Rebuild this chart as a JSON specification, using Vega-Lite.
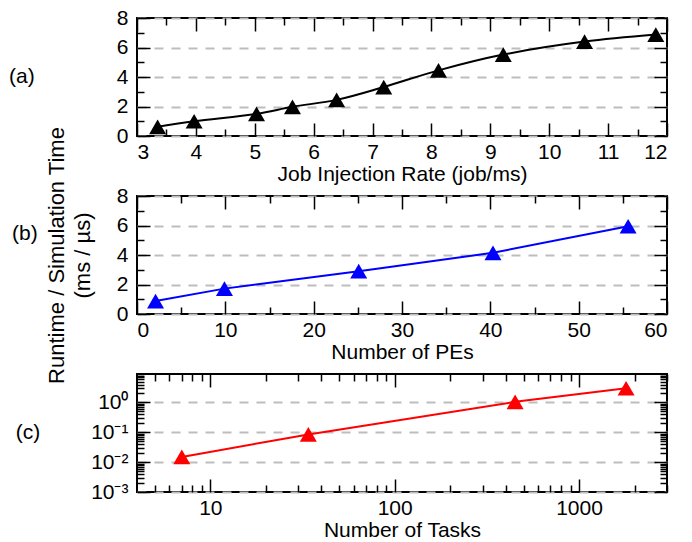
{
  "$schema": "https://vega.github.io/schema/vega-lite/v6.json",
  "padding": {"left": 7, "top": 6, "right": 5, "bottom": 2},
  "background": "white",
  "spacing": 60,
  "bounds": "flush",
  "datasets": {
    "a": [
      {"rate": 3.35, "time": 0.62},
      {"rate": 3.97, "time": 1.0},
      {"rate": 5.03, "time": 1.5},
      {"rate": 5.64, "time": 1.98},
      {"rate": 6.39, "time": 2.45},
      {"rate": 7.19, "time": 3.32},
      {"rate": 8.12, "time": 4.45},
      {"rate": 9.22, "time": 5.52},
      {"rate": 10.6, "time": 6.4},
      {"rate": 11.81, "time": 6.88}
    ],
    "b": [
      {"pes": 2.1, "time": 0.88},
      {"pes": 9.9, "time": 1.72},
      {"pes": 25.1, "time": 2.9},
      {"pes": 40.3, "time": 4.15},
      {"pes": 55.6, "time": 5.95}
    ],
    "c": [
      {"tasks": 7, "time": 0.015},
      {"tasks": 34, "time": 0.085},
      {"tasks": 450, "time": 1.05},
      {"tasks": 1800, "time": 3.0}
    ]
  },
  "vconcat": [
    {
      "width": 530, "height": 118,
      "title": {"text": "(a)", "orient": "left", "angle": 0, "align": "right", "baseline": "middle", "offset": 56, "fontSize": 21, "fontWeight": "normal", "font": "Liberation Sans", "color": "black"},
      "data": {"name": "a"},
      "layer": [
        {
          "mark": {"type": "line", "color": "black", "strokeWidth": 2, "interpolate": "catmull-rom"},
          "encoding": {
            "x": {"field": "rate", "type": "quantitative", "scale": {"domain": [3, 12], "nice": false, "zero": false},
                  "axis": {"orient": "bottom", "values": [3,4,5,6,7,8,9,10,11,12], "ticks": false, "domain": false, "grid": false, "labelPadding": 5, "title": "Job Injection Rate (job/ms)", "titlePadding": 1}},
            "y": {"field": "time", "type": "quantitative", "scale": {"domain": [0, 8], "nice": false, "zero": false},
                  "axis": {"orient": "left", "values": [0,2,4,6,8], "ticks": false, "domain": false, "grid": true, "gridDash": [9, 8], "gridColor": "#bdbdbd", "gridWidth": 2, "labelPadding": 9, "title": null}}
          }
        },
        {
          "mark": {"type": "point", "shape": "triangle-up", "filled": true, "size": 289, "color": "black", "opacity": 1},
          "encoding": {
            "x": {"field": "rate", "type": "quantitative", "axis": {"orient": "bottom", "values": [3,4,5,6,7,8,9,10,11,12], "labels": false, "tickSize": -13, "domain": false, "grid": false, "title": null}},
            "y": {"field": "time", "type": "quantitative", "axis": {"orient": "left", "values": [0,2,4,6,8], "labels": false, "tickSize": -13, "domain": false, "grid": false, "title": null}}
          }
        },
        {
          "mark": {"type": "point", "opacity": 0},
          "encoding": {
            "x": {"field": "rate", "type": "quantitative", "axis": {"orient": "bottom", "values": [3.5,4.5,5.5,6.5,7.5,8.5,9.5,10.5,11.5], "labels": false, "tickSize": -7, "domain": false, "grid": false, "title": null}},
            "y": {"field": "time", "type": "quantitative", "axis": {"orient": "left", "values": [1,3,5,7], "labels": false, "tickSize": -7, "domain": false, "grid": false, "title": null}}
          }
        },
        {
          "mark": {"type": "point", "opacity": 0},
          "encoding": {
            "x": {"field": "rate", "type": "quantitative", "axis": {"orient": "top", "values": [3,4,5,6,7,8,9,10,11,12], "labels": false, "tickSize": -13, "domain": false, "grid": false, "title": null}},
            "y": {"field": "time", "type": "quantitative", "axis": {"orient": "right", "values": [0,2,4,6,8], "labels": false, "tickSize": -13, "domain": false, "grid": false, "title": null}}
          }
        },
        {
          "mark": {"type": "point", "opacity": 0},
          "encoding": {
            "x": {"field": "rate", "type": "quantitative", "axis": {"orient": "top", "values": [3.5,4.5,5.5,6.5,7.5,8.5,9.5,10.5,11.5], "labels": false, "tickSize": -7, "domain": false, "grid": false, "title": null}},
            "y": {"field": "time", "type": "quantitative", "axis": {"orient": "right", "values": [1,3,5,7], "labels": false, "tickSize": -7, "domain": false, "grid": false, "title": null}}
          }
        }
      ],
      "resolve": {"axis": {"x": "independent", "y": "independent"}}
    },
    {
      "width": 530, "height": 118,
      "title": {"text": "(b)", "orient": "left", "angle": 0, "align": "right", "baseline": "middle", "offset": -18, "dy": -21, "fontSize": 21, "fontWeight": "normal", "font": "Liberation Sans", "color": "black"},
      "data": {"name": "b"},
      "layer": [
        {
          "mark": {"type": "line", "color": "#0000ff", "strokeWidth": 2},
          "encoding": {
            "x": {"field": "pes", "type": "quantitative", "scale": {"domain": [0, 60], "nice": false, "zero": false},
                  "axis": {"orient": "bottom", "values": [0,10,20,30,40,50,60], "ticks": false, "domain": false, "grid": false, "labelPadding": 5, "title": "Number of PEs", "titlePadding": 1}},
            "y": {"field": "time", "type": "quantitative", "scale": {"domain": [0, 8], "nice": false, "zero": false},
                  "axis": {"orient": "left", "values": [0,2,4,6,8], "ticks": false, "domain": false, "grid": true, "gridDash": [9, 8], "gridColor": "#bdbdbd", "gridWidth": 2, "labelPadding": 9,
                           "title": ["Runtime / Simulation Time", "(ms / µs)"], "titleFontSize": 22, "titleLineHeight": 26, "titlePadding": 22}}
          }
        },
        {
          "mark": {"type": "point", "shape": "triangle-up", "filled": true, "size": 289, "color": "#0000ff", "opacity": 1},
          "encoding": {
            "x": {"field": "pes", "type": "quantitative", "axis": {"orient": "bottom", "values": [0,10,20,30,40,50,60], "labels": false, "tickSize": -13, "domain": false, "grid": false, "title": null}},
            "y": {"field": "time", "type": "quantitative", "axis": {"orient": "left", "values": [0,2,4,6,8], "labels": false, "tickSize": -13, "domain": false, "grid": false, "title": null}}
          }
        },
        {
          "mark": {"type": "point", "opacity": 0},
          "encoding": {
            "x": {"field": "pes", "type": "quantitative", "axis": {"orient": "bottom", "values": [5,15,25,35,45,55], "labels": false, "tickSize": -7, "domain": false, "grid": false, "title": null}},
            "y": {"field": "time", "type": "quantitative", "axis": {"orient": "left", "values": [1,3,5,7], "labels": false, "tickSize": -7, "domain": false, "grid": false, "title": null}}
          }
        },
        {
          "mark": {"type": "point", "opacity": 0},
          "encoding": {
            "x": {"field": "pes", "type": "quantitative", "axis": {"orient": "top", "values": [0,10,20,30,40,50,60], "labels": false, "tickSize": -13, "domain": false, "grid": false, "title": null}},
            "y": {"field": "time", "type": "quantitative", "axis": {"orient": "right", "values": [0,2,4,6,8], "labels": false, "tickSize": -13, "domain": false, "grid": false, "title": null}}
          }
        },
        {
          "mark": {"type": "point", "opacity": 0},
          "encoding": {
            "x": {"field": "pes", "type": "quantitative", "axis": {"orient": "top", "values": [5,15,25,35,45,55], "labels": false, "tickSize": -7, "domain": false, "grid": false, "title": null}},
            "y": {"field": "time", "type": "quantitative", "axis": {"orient": "right", "values": [1,3,5,7], "labels": false, "tickSize": -7, "domain": false, "grid": false, "title": null}}
          }
        }
      ],
      "resolve": {"axis": {"x": "independent", "y": "independent"}}
    },
    {
      "width": 530, "height": 118,
      "title": {"text": "(c)", "orient": "left", "angle": 0, "align": "right", "baseline": "middle", "offset": 26, "fontSize": 21, "fontWeight": "normal", "font": "Liberation Sans", "color": "black"},
      "data": {"name": "c"},
      "layer": [
        {
          "mark": {"type": "line", "color": "#ff0000", "strokeWidth": 2},
          "encoding": {
            "x": {"field": "tasks", "type": "quantitative", "scale": {"type": "log", "domain": [4, 3000], "nice": false},
                  "axis": {"orient": "bottom", "values": [10, 100, 1000], "format": "d", "ticks": false, "domain": false, "grid": false, "labelPadding": 5, "title": "Number of Tasks", "titlePadding": 1}},
            "y": {"field": "time", "type": "quantitative", "scale": {"type": "log", "domain": [0.001, 9], "nice": false},
                  "axis": {"orient": "left", "values": [0.001, 0.01, 0.1, 1], "ticks": false, "domain": false, "grid": true, "gridDash": [9, 8], "gridColor": "#bdbdbd", "gridWidth": 2, "labelPadding": 9,
                           "labelExpr": "datum.value >= 0.5 ? '10⁰' : datum.value >= 0.05 ? '10⁻¹' : datum.value >= 0.005 ? '10⁻²' : '10⁻³'", "title": null}}
          }
        },
        {
          "mark": {"type": "point", "shape": "triangle-up", "filled": true, "size": 289, "color": "#ff0000", "opacity": 1},
          "encoding": {
            "x": {"field": "tasks", "type": "quantitative", "axis": {"orient": "bottom", "values": [10, 100, 1000], "labels": false, "tickSize": -13, "domain": false, "grid": false, "title": null}},
            "y": {"field": "time", "type": "quantitative", "axis": {"orient": "left", "values": [0.001, 0.01, 0.1, 1], "labels": false, "tickSize": -13, "domain": false, "grid": false, "title": null}}
          }
        },
        {
          "mark": {"type": "point", "opacity": 0},
          "encoding": {
            "x": {"field": "tasks", "type": "quantitative", "axis": {"orient": "bottom", "values": [5,6,7,8,9,20,30,40,50,60,70,80,90,200,300,400,500,600,700,800,900,2000,3000], "labels": false, "tickSize": -7, "domain": false, "grid": false, "title": null}},
            "y": {"field": "time", "type": "quantitative", "axis": {"orient": "left", "values": [0.002,0.003,0.004,0.005,0.006,0.007,0.008,0.009,0.02,0.03,0.04,0.05,0.06,0.07,0.08,0.09,0.2,0.3,0.4,0.5,0.6,0.7,0.8,0.9,2,3,4,5,6,7,8,9], "labels": false, "tickSize": -7, "domain": false, "grid": false, "title": null}}
          }
        },
        {
          "mark": {"type": "point", "opacity": 0},
          "encoding": {
            "x": {"field": "tasks", "type": "quantitative", "axis": {"orient": "top", "values": [10, 100, 1000], "labels": false, "tickSize": -13, "domain": false, "grid": false, "title": null}},
            "y": {"field": "time", "type": "quantitative", "axis": {"orient": "right", "values": [0.001, 0.01, 0.1, 1], "labels": false, "tickSize": -13, "domain": false, "grid": false, "title": null}}
          }
        },
        {
          "mark": {"type": "point", "opacity": 0},
          "encoding": {
            "x": {"field": "tasks", "type": "quantitative", "axis": {"orient": "top", "values": [5,6,7,8,9,20,30,40,50,60,70,80,90,200,300,400,500,600,700,800,900,2000,3000], "labels": false, "tickSize": -7, "domain": false, "grid": false, "title": null}},
            "y": {"field": "time", "type": "quantitative", "axis": {"orient": "right", "values": [0.002,0.003,0.004,0.005,0.006,0.007,0.008,0.009,0.02,0.03,0.04,0.05,0.06,0.07,0.08,0.09,0.2,0.3,0.4,0.5,0.6,0.7,0.8,0.9,2,3,4,5,6,7,8,9], "labels": false, "tickSize": -7, "domain": false, "grid": false, "title": null}}
          }
        }
      ],
      "resolve": {"axis": {"x": "independent", "y": "independent"}}
    }
  ],
  "config": {
    "font": "Liberation Sans",
    "view": {"stroke": "black", "strokeWidth": 2},
    "axis": {
      "labelFont": "Liberation Sans", "labelFontSize": 21, "labelColor": "black",
      "titleFont": "Liberation Sans", "titleFontSize": 21, "titleFontWeight": "normal", "titleColor": "black",
      "tickColor": "black", "tickWidth": 1.5
    }
  }
}
